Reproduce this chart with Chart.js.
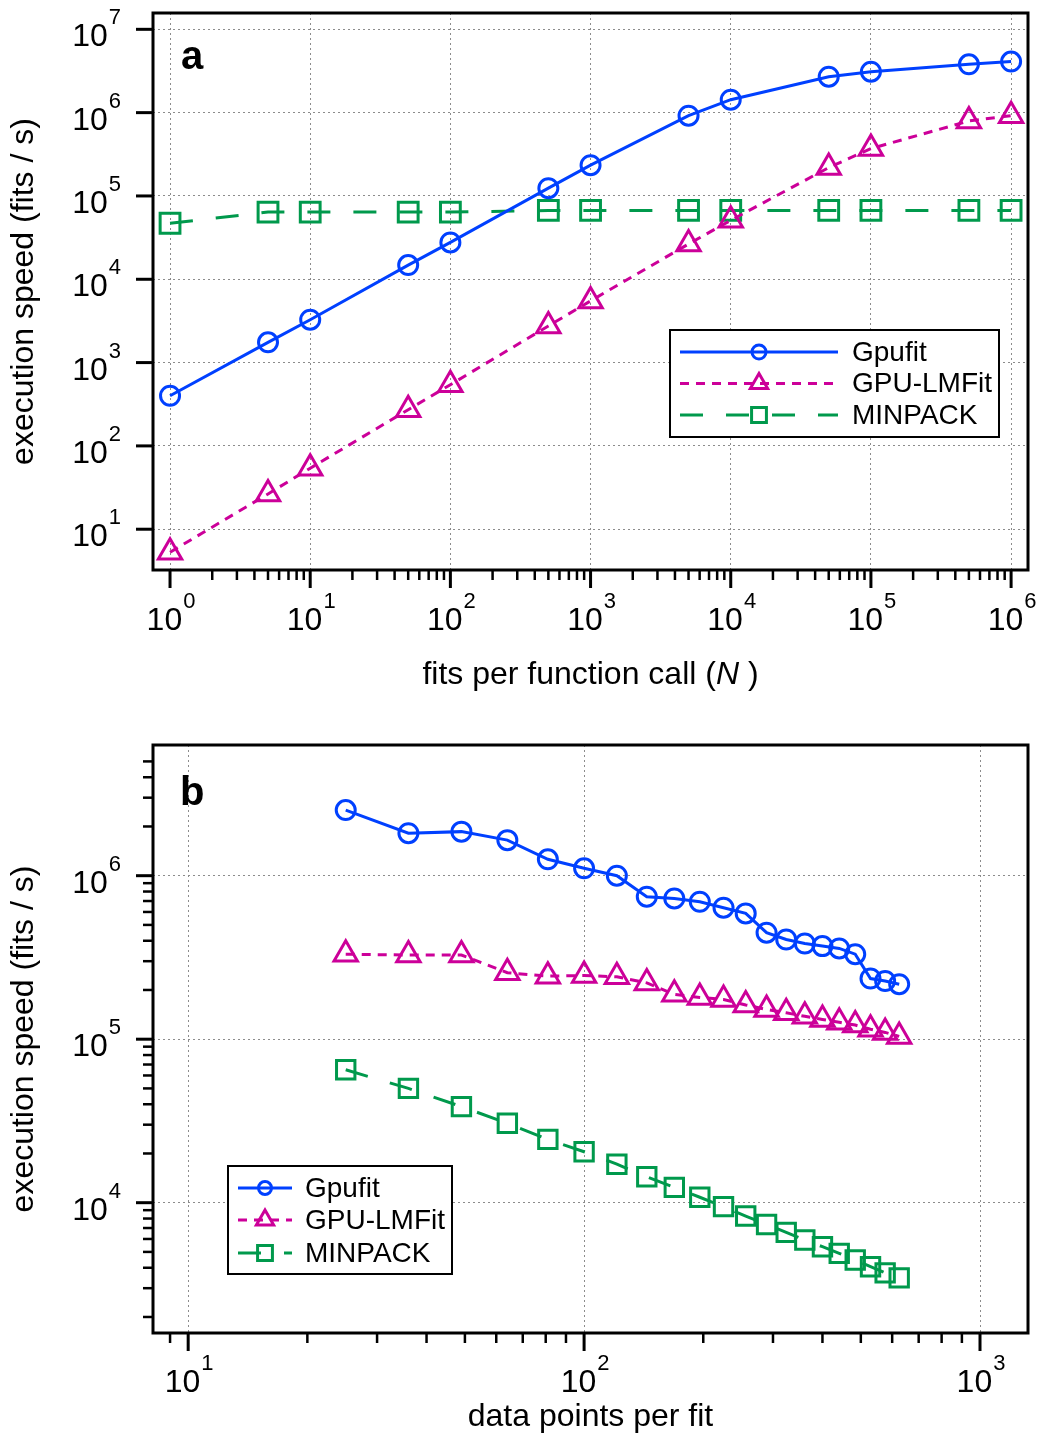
<!DOCTYPE html>
<html>
<head>
<meta charset="utf-8">
<script src="https://cdn.jsdelivr.net/npm/chart.js@4/dist/chart.umd.min.js"></script>
<style>
  html, body { margin: 0; padding: 0; background: #fff; }
  .panel { position: absolute; left: 0; width: 1038px; }
</style>
</head>
<body>
<div class="panel" style="top:0;height:720px"><canvas id="chartA" width="1038" height="720"></canvas></div>
<div class="panel" style="top:720px;height:718px"><canvas id="chartB" width="1038" height="718"></canvas></div>
<script>
// Panel a: speed vs number of fits per function call
const fitsPerCall = [1, 5, 10, 50, 100, 500, 1000, 5000, 10000, 50000, 100000, 500000, 1000000];
const gpufitA = [400, 1750, 3270, 14800, 27700, 124000, 234000, 920000, 1430000, 2700000, 3100000, 3800000, 4100000];
const lmfitA = [5.3, 26.5, 54, 272, 543, 2750, 5500, 26500, 51000, 219000, 370000, 794000, 920000];
const minpackA = [47000, 64000, 64000, 64000, 64000, 67000, 67000, 67000, 67000, 67000, 67000, 67000, 67000];

// Panel b: speed vs number of data points per fit
const pointsPerFit = [25, 36, 49, 64, 81, 100, 121, 144, 169, 196, 225, 256, 289, 324, 361, 400, 441, 484, 529, 576, 625];
const gpufitB = [2520000, 1820000, 1860000, 1650000, 1260000, 1110000, 1000000, 744000, 726000, 693000, 637000, 588000, 448000, 407000, 385000, 371000, 359000, 331000, 235000, 227000, 217000];
const lmfitB = [331000, 327000, 327000, 255000, 243000, 245000, 241000, 221000, 188000, 180000, 175000, 162000, 152000, 145000, 138000, 132000, 127000, 122000, 115000, 110000, 104000];
const minpackB = [65000, 50000, 38700, 30600, 24400, 20500, 17200, 14400, 12400, 10800, 9460, 8290, 7360, 6580, 5910, 5380, 4900, 4460, 4060, 3720, 3470];

const seriesNames = ["Gpufit", "GPU-LMFit", "MINPACK"];

// Decade ticks (labelled as powers of ten)
const xTicksA = [1, 10, 100, 1000, 10000, 100000, 1000000];
const yTicksA = [10, 100, 1000, 10000, 100000, 1000000, 10000000];
const xTicksB = [10, 100, 1000];
const yTicksB = [10000, 100000, 1000000];

const FONT = '"Liberation Sans", Arial, Helvetica, sans-serif';
const BLUE = "#0040ff";
const MAGENTA = "#cc0099";
const GREEN = "#00994c";

Chart.defaults.font.family = FONT;
Chart.defaults.color = "#000";

// 2..9 x 10^n between lo and hi
function minorTicks(lo, hi) {
    const out = [];
    for (let e = Math.floor(Math.log10(lo)); e <= Math.ceil(Math.log10(hi)); e++) {
        for (let k = 2; k <= 9; k++) {
            const v = k * Math.pow(10, e);
            if (v >= lo && v <= hi) out.push(v);
        }
    }
    return out;
}

function series(label, xs, ys, color, style, dash, radius) {
    return {
        label: label,
        data: xs.map((x, i) => ({ x: x, y: ys[i] })),
        borderColor: color,
        backgroundColor: "transparent",
        borderWidth: 3,
        borderDash: dash,
        pointStyle: style,
        pointRadius: radius,
        pointHoverRadius: radius,
        pointBorderWidth: 3,
        pointBorderColor: color,
        pointBackgroundColor: "rgba(0,0,0,0)",
        tension: 0,
        fill: false
    };
}

function logAxis(min, max, decades, size, horizontal, title) {
    return {
        type: "logarithmic",
        min: min,
        max: max,
        afterBuildTicks: s => { s.ticks = decades.map(v => ({ value: v, major: true })); },
        afterFit: s => { if (horizontal) s.height = size; else s.width = size; },
        ticks: { display: false },
        grid: { color: "#8c8c8c", lineWidth: 1, drawTicks: false },
        border: { display: false, dash: [2, 3] },
        title: title
    };
}

function drawPower(ctx, exp, x, y, align) {
    ctx.font = "32px " + FONT;
    const wb = ctx.measureText("10").width;
    ctx.font = "22px " + FONT;
    const ws = ctx.measureText(String(exp)).width;
    const total = wb + 1 + ws;
    const x0 = align === "center" ? x - total / 2 : x - total;
    ctx.textAlign = "left";
    ctx.textBaseline = "alphabetic";
    ctx.font = "32px " + FONT;
    ctx.fillText("10", x0, y);
    ctx.font = "22px " + FONT;
    ctx.fillText(String(exp), x0 + wb + 1, y - 22);
}

// Frame, outward tick marks, power-of-ten labels, panel letter
const framePlugin = {
    id: "frame",
    afterDraw(chart, args, opts) {
        const ctx = chart.ctx;
        const area = chart.chartArea;
        const xs = chart.scales.x, ys = chart.scales.y;
        ctx.save();
        ctx.strokeStyle = "#000";
        ctx.fillStyle = "#000";

        const tick = (scale, values, len, width, horizontal) => {
            ctx.lineWidth = width;
            values.forEach(v => {
                const p = scale.getPixelForValue(v);
                if (horizontal) {
                    if (p < area.left + 5 || p > area.right - 5) return;
                    ctx.beginPath(); ctx.moveTo(p, area.bottom); ctx.lineTo(p, area.bottom + len); ctx.stroke();
                } else {
                    if (p < area.top + 5 || p > area.bottom - 5) return;
                    ctx.beginPath(); ctx.moveTo(area.left, p); ctx.lineTo(area.left - len, p); ctx.stroke();
                }
            });
        };
        tick(xs, opts.xMinor, 10, 2.5, true);
        tick(ys, opts.yMinor, 10, 2.5, false);
        tick(xs, opts.xMajor, 18, 3, true);
        tick(ys, opts.yMajor, 17, 3, false);

        ctx.lineWidth = 3;
        ctx.strokeRect(area.left, area.top, area.right - area.left, area.bottom - area.top);

        opts.xMajor.forEach(v => drawPower(ctx, Math.round(Math.log10(v)), xs.getPixelForValue(v) + 1, area.bottom + opts.xLabelGap, "center"));
        opts.yMajor.forEach(v => drawPower(ctx, Math.round(Math.log10(v)), area.left - 32, ys.getPixelForValue(v) + 17, "right"));

        ctx.font = "bold 40px " + FONT;
        ctx.textAlign = "left";
        ctx.textBaseline = "alphabetic";
        ctx.fillText(opts.letter, opts.letterPos[0], opts.letterPos[1]);

        if (opts.xTitleParts) {
            const parts = opts.xTitleParts;
            const widths = parts.map(p => { ctx.font = p[1] + " 32px " + FONT; return ctx.measureText(p[0]).width; });
            let x = (area.left + area.right) / 2 - widths.reduce((a, b) => a + b, 0) / 2;
            parts.forEach((p, i) => {
                ctx.font = p[1] + " 32px " + FONT;
                ctx.fillText(p[0], x, opts.xTitleY);
                x += widths[i];
            });
        }
        ctx.restore();
    }
};

// Boxed legend with line sample and marker
const boxLegend = {
    id: "boxLegend",
    afterDatasetsDraw(chart, args, opts) {
        const ctx = chart.ctx;
        const b = opts.box;
        ctx.save();
        ctx.fillStyle = "#fff";
        ctx.fillRect(b[0], b[1], b[2], b[3]);
        ctx.strokeStyle = "#000";
        ctx.lineWidth = 2;
        ctx.strokeRect(b[0], b[1], b[2], b[3]);
        chart.data.datasets.forEach((ds, i) => {
            const y = opts.rows[i];
            ctx.strokeStyle = ds.borderColor;
            ctx.lineWidth = ds.borderWidth;
            ctx.setLineDash(ds.borderDash || []);
            ctx.beginPath();
            ctx.moveTo(opts.lineX[0], y);
            ctx.lineTo(opts.lineX[1], y);
            ctx.stroke();
            ctx.setLineDash([]);
            ctx.lineWidth = 3;
            ctx.fillStyle = "rgba(0,0,0,0)";
            Chart.helpers.drawPoint(ctx, { pointStyle: ds.pointStyle, radius: opts.markerRadius[i], rotation: 0, borderWidth: 3 }, opts.markerX, y);
            ctx.fillStyle = "#000";
            ctx.font = "28px " + FONT;
            ctx.textAlign = "left";
            ctx.textBaseline = "middle";
            ctx.fillText(ds.label, opts.textX, y + 1);
        });
        ctx.restore();
    }
};

const yTitle = { display: true, text: "execution speed (fits / s)", font: { size: 32 }, color: "#000", padding: { top: 5, bottom: 0 } };

const xMinA = 0.756, xMaxA = 1.32e6, yMinA = 3.24, yMaxA = 1.57e7;
const xMinB = 8.15, xMaxB = 1322, yMinB = 1596, yMaxB = 6.3e6;

new Chart(document.getElementById("chartA"), {
    type: "line",
    data: {
        datasets: [
            series(seriesNames[0], fitsPerCall, gpufitA, BLUE, "circle", [], 9.5),
            series(seriesNames[1], fitsPerCall, lmfitA, MAGENTA, "triangle", [9, 7], 13.5),
            series(seriesNames[2], fitsPerCall, minpackA, GREEN, "rect", [23, 23], 14)
        ]
    },
    options: {
        responsive: false,
        animation: false,
        events: [],
        layout: { autoPadding: false, padding: { top: 13, right: 10, left: 0, bottom: 0 } },
        scales: {
            x: logAxis(xMinA, xMaxA, xTicksA, 150, true, { display: false }),
            y: logAxis(yMinA, yMaxA, yTicksA, 153, false, yTitle)
        },
        plugins: {
            legend: { display: false },
            tooltip: { enabled: false },
            boxLegend: { box: [670, 330, 329, 107], rows: [352, 383.5, 415], lineX: [680, 838], markerX: 759, textX: 852, markerRadius: [7, 10, 10.5] },
            frame: {
                xMajor: xTicksA, yMajor: yTicksA,
                xMinor: minorTicks(1, xMaxA), yMinor: [],
                xLabelGap: 60, letter: "a", letterPos: [181, 69],
                xTitleParts: [["fits per function call (", "normal"], ["N", "italic"], [" )", "normal"]], xTitleY: 684
            }
        }
    },
    plugins: [boxLegend, framePlugin]
});

new Chart(document.getElementById("chartB"), {
    type: "line",
    data: {
        datasets: [
            series(seriesNames[0], pointsPerFit, gpufitB, BLUE, "circle", [], 9.5),
            series(seriesNames[1], pointsPerFit, lmfitB, MAGENTA, "triangle", [9, 7], 13.5),
            series(seriesNames[2], pointsPerFit, minpackB, GREEN, "rect", [23, 23], 13)
        ]
    },
    options: {
        responsive: false,
        animation: false,
        events: [],
        layout: { autoPadding: false, padding: { top: 25, right: 10, left: 0, bottom: 0 } },
        scales: {
            x: logAxis(xMinB, xMaxB, xTicksB, 105, true, { display: true, text: "data points per fit", font: { size: 32 }, color: "#000", padding: { top: 0, bottom: 2 } }),
            y: logAxis(yMinB, yMaxB, yTicksB, 153, false, yTitle)
        },
        plugins: {
            legend: { display: false },
            tooltip: { enabled: false },
            boxLegend: { box: [228, 446, 224, 108], rows: [468, 500, 533], lineX: [238, 292], markerX: 265, textX: 305, markerRadius: [6.5, 10, 10.5] },
            frame: {
                xMajor: xTicksB, yMajor: yTicksB,
                xMinor: minorTicks(xMinB, xMaxB), yMinor: minorTicks(yMinB, yMaxB),
                xLabelGap: 59, letter: "b", letterPos: [180, 85]
            }
        }
    },
    plugins: [boxLegend, framePlugin]
});
</script>
</body>
</html>
